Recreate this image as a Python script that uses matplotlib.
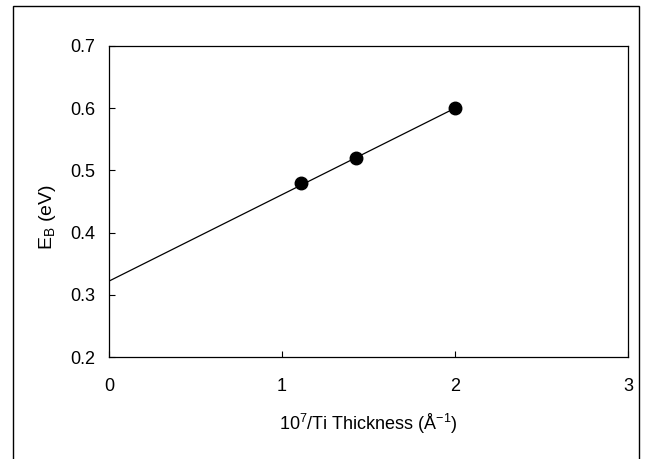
import matplotlib
matplotlib.use('Agg')
import matplotlib.pyplot as plt
from matplotlib.patches import Rectangle

plt.rcParams['font.family'] = ['Liberation Sans', 'DejaVu Sans']
plt.rcParams['mathtext.fontset'] = 'custom'
plt.rcParams['mathtext.rm'] = 'Liberation Sans'
plt.rcParams['mathtext.it'] = 'Liberation Sans'

# measured points
inv_thickness = [1.11, 1.43, 2.0]
barrier_ev = [0.48, 0.52, 0.60]

# fitted line as drawn
fit_x = [0.0, 2.0]
fit_y = [0.322, 0.600]

xticks = [0, 1, 2, 3]
yticks = [0.2, 0.3, 0.4, 0.5, 0.6, 0.7]

fig = plt.figure(figsize=(6.46, 4.59), dpi=100)
ax = fig.add_axes([0.1687, 0.2222, 0.8034, 0.6776])

ax.plot(fit_x, fit_y, color='black', linewidth=0.9)
ax.plot(inv_thickness, barrier_ev, 'o', color='black', markersize=9)

ax.set_xlim(0, 3)
ax.set_ylim(0.2, 0.7)
ax.set_xticks(xticks)
ax.set_xticklabels([str(t) for t in xticks])
ax.set_yticks(yticks)
ax.set_yticklabels(['%.1f' % t for t in yticks])
ax.tick_params(axis='both', direction='in', length=4, width=0.8, labelsize=13)
ax.tick_params(axis='x', pad=15)
ax.tick_params(axis='y', pad=10)
for s in ax.spines.values():
    s.set_linewidth(0.9)

ax.set_xlabel(r'10$^{7}$/Ti Thickness ($\mathrm{\AA}^{-1}$)', fontsize=13, labelpad=12)
ax.set_ylabel(r'E$_{\mathrm{B}}$ (eV)', fontsize=14)
ax.yaxis.set_label_coords(-0.098, 0.45)

# outer frame around the figure (bottom edge is cut off)
fig.patches.append(Rectangle((13 / 646, -0.05), (639 - 13) / 646, 1.05 - 6 / 459,
                             transform=fig.transFigure, fill=False,
                             edgecolor='black', linewidth=1.0, clip_on=False))

fig.savefig('out.png', dpi=100)
